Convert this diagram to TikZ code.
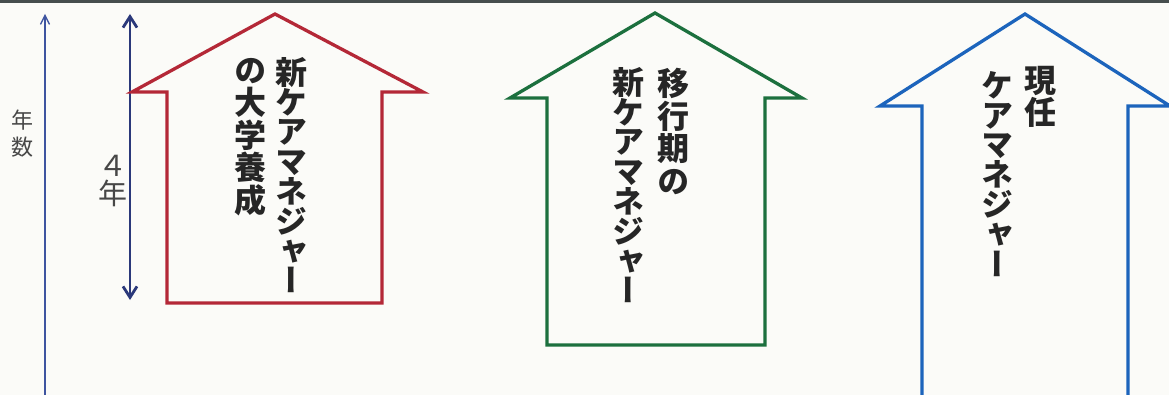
\documentclass[tikz,border=0pt]{standalone}
\usepackage{fontspec}
\usetikzlibrary{arrows.meta}
\newfontfamily\jpv[RawFeature=+vert]{Noto Sans CJK JP}
\definecolor{bgc}{RGB}{251,251,248}
\definecolor{topbar}{RGB}{70,78,78}
\definecolor{redh}{RGB}{180,40,55}
\definecolor{greenh}{RGB}{28,112,62}
\definecolor{blueh}{RGB}{28,100,188}
\definecolor{navyh}{RGB}{42,56,122}
\definecolor{axisc}{RGB}{62,84,160}
\definecolor{textgray}{RGB}{38,38,38}
\begin{document}
\begin{tikzpicture}[x=1pt,y=-1pt,
  house/.style={line width=3.3pt, line join=miter},
  kana/.style={font=\jpv\bfseries\fontsize{32}{29.8}\selectfont, align=center, inner sep=0pt, anchor=north, text=textgray},
  kanji/.style={font=\jpv\bfseries\fontsize{32}{32.5}\selectfont, align=center, inner sep=0pt, anchor=north, text=textgray},
  lbl/.style={font=\jpv\fontsize{22}{27}\selectfont, align=center, inner sep=0pt, text=textgray!85}]
\fill[bgc] (0,0) rectangle (1169,395);
\useasboundingbox (0,0) rectangle (1169,395);
\clip (0,0) rectangle (1169,395);
\fill[topbar] (0,0) rectangle (1169,3);

% year axis
\coordinate (axB) at (45,400);
\coordinate (axT) at (45,14);
\draw[axisc, line width=1.3pt, -{Straight Barb[length=9pt,width=9pt]}] (axB) -- (axT);
\node[lbl] (nensu) at (23,134) {年\\数};

% four years
\coordinate (fyT) at (130,14);
\coordinate (fyB) at (130,300);
\draw[navyh, line width=2.8pt, {Straight Barb[length=11pt,width=14pt]}-{Straight Barb[length=11pt,width=14pt]}] (fyB) -- (fyT);
\node[lbl, font=\jpv\fontsize{29}{28}\selectfont] (four) at (113,181) {４\\年};

% red house
\draw[redh, house] (132,92) -- (275,14) -- (423,92) -- (382,92) -- (382,303) -- (167,303) -- (167,92) -- cycle;
\node[kana] (r1) at (291,57) {新\\ケ\\ア\\マ\\ネ\\ジ\\ャ\\ー};
\node[kanji] (r2) at (250,58) {の\\大\\学\\養\\成};

% green house
\draw[greenh, house] (510,98) -- (655,13) -- (802,98) -- (765,98) -- (765,345) -- (547,345) -- (547,98) -- cycle;
\node[kanji] (g1) at (673,68) {移\\行\\期\\の};
\node[kana] (g2) at (628,67) {新\\ケ\\ア\\マ\\ネ\\ジ\\ャ\\ー};

% blue house
\draw[blueh, house] (922,420) -- (922,106) -- (880,106) -- (1025,14) -- (1170,106) -- (1128,106) -- (1128,420);
\node[kanji] (b1) at (1040,66) {現\\任};
\node[kana] (b2) at (997,71) {ケ\\ア\\マ\\ネ\\ジ\\ャ\\ー};
\end{tikzpicture}
\end{document}
